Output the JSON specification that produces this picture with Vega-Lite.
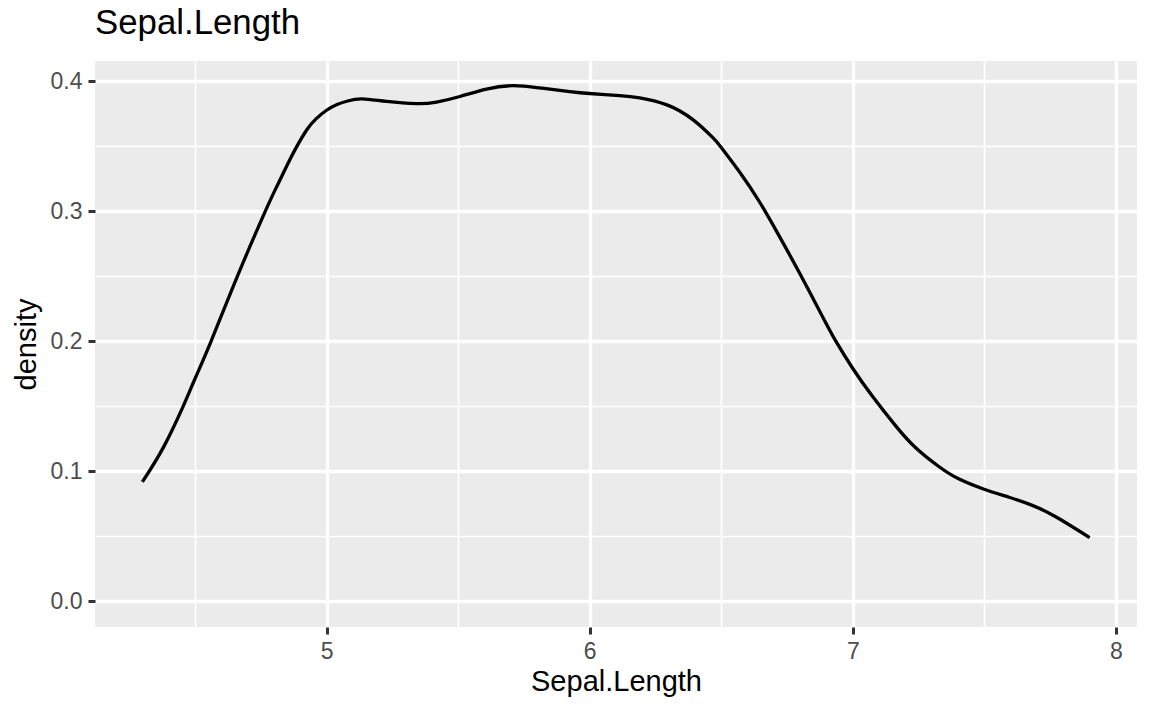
{
  "$schema": "https://vega.github.io/schema/vega-lite/v6.json",
  "width": 1042,
  "height": 566,
  "autosize": {"type": "none"},
  "padding": {"left": 95, "top": 61, "right": 15, "bottom": 84},
  "background": "white",
  "title": {"text": "Sepal.Length", "anchor": "start", "frame": "group", "fontSize": 34.8, "font": "Liberation Sans", "fontWeight": "normal", "color": "black", "baseline": "alphabetic", "offset": -8},
  "config": {"view": {"fill": "#EBEBEB", "stroke": null}},
  "data": {"values": [
    {"x": 4.3, "y": 0.0918}, {"x": 4.381, "y": 0.1188}, {"x": 4.457, "y": 0.1509}, {"x": 4.5, "y": 0.1712},
    {"x": 4.561, "y": 0.2}, {"x": 4.661, "y": 0.25}, {"x": 4.767, "y": 0.3}, {"x": 4.811, "y": 0.3192},
    {"x": 4.85, "y": 0.3355}, {"x": 4.883, "y": 0.3485}, {"x": 4.925, "y": 0.3628}, {"x": 4.96, "y": 0.3712},
    {"x": 5.0, "y": 0.3778}, {"x": 5.04, "y": 0.3822}, {"x": 5.08, "y": 0.3849}, {"x": 5.134, "y": 0.3866},
    {"x": 5.228, "y": 0.3846}, {"x": 5.342, "y": 0.3829}, {"x": 5.418, "y": 0.3841}, {"x": 5.507, "y": 0.3884},
    {"x": 5.608, "y": 0.3941}, {"x": 5.709, "y": 0.3967}, {"x": 5.81, "y": 0.395}, {"x": 5.924, "y": 0.3922},
    {"x": 6.0, "y": 0.3907}, {"x": 6.114, "y": 0.3891}, {"x": 6.19, "y": 0.3873}, {"x": 6.291, "y": 0.3821},
    {"x": 6.392, "y": 0.3706}, {"x": 6.468, "y": 0.3567}, {"x": 6.5, "y": 0.3492}, {"x": 6.569, "y": 0.3305},
    {"x": 6.645, "y": 0.3074}, {"x": 6.721, "y": 0.2808}, {"x": 6.797, "y": 0.2527}, {"x": 6.892, "y": 0.2163},
    {"x": 6.936, "y": 0.2}, {"x": 7.0, "y": 0.1791}, {"x": 7.076, "y": 0.1573}, {"x": 7.166, "y": 0.1342},
    {"x": 7.242, "y": 0.1175}, {"x": 7.328, "y": 0.1035}, {"x": 7.404, "y": 0.094}, {"x": 7.499, "y": 0.0862},
    {"x": 7.594, "y": 0.08}, {"x": 7.682, "y": 0.0738}, {"x": 7.771, "y": 0.065}, {"x": 7.9, "y": 0.049}
  ]},
  "mark": {"type": "line", "color": "black", "strokeWidth": 3.3, "interpolate": "natural"},
  "encoding": {
    "x": {
      "field": "x", "type": "quantitative",
      "scale": {"domain": [4.12, 8.08], "nice": false, "zero": false},
      "axis": {
        "title": "Sepal.Length",
        "values": [4.5, 5, 5.5, 6, 6.5, 7, 7.5, 8],
        "labelExpr": "datum.value % 1 === 0 ? format(datum.value, 'd') : ''",
        "domain": false,
        "grid": true,
        "gridColor": "white",
        "gridWidth": {"condition": {"test": "datum.value % 1 === 0", "value": 3.3}, "value": 1.7},
        "tickColor": {"condition": {"test": "datum.value % 1 === 0", "value": "#333333"}, "value": "rgba(0,0,0,0)"},
        "tickSize": 7,
        "tickWidth": 3,
        "labelPadding": 6,
        "labelFont": "Liberation Sans",
        "labelFontSize": 23,
        "labelColor": "#4D4D4D",
        "labelFlush": false,
        "labelOverlap": false,
        "titleFont": "Liberation Sans",
        "titleFontSize": 29,
        "titleFontWeight": "normal",
        "titleColor": "black",
        "titlePadding": 4
      }
    },
    "y": {
      "field": "y", "type": "quantitative",
      "scale": {"domain": [-0.0198, 0.4157], "nice": false, "zero": false},
      "axis": {
        "title": "density",
        "values": [0, 0.05, 0.1, 0.15, 0.2, 0.25, 0.3, 0.35, 0.4],
        "labelExpr": "abs(datum.value * 10 - round(datum.value * 10)) < 0.001 ? format(datum.value, '.1f') : ''",
        "domain": false,
        "grid": true,
        "gridColor": "white",
        "gridWidth": {"condition": {"test": "abs(datum.value * 10 - round(datum.value * 10)) < 0.001", "value": 3.3}, "value": 1.7},
        "tickColor": {"condition": {"test": "abs(datum.value * 10 - round(datum.value * 10)) < 0.001", "value": "#333333"}, "value": "rgba(0,0,0,0)"},
        "tickSize": 7,
        "tickWidth": 3,
        "labelPadding": 6,
        "labelFont": "Liberation Sans",
        "labelFontSize": 23,
        "labelColor": "#4D4D4D",
        "labelFlush": false,
        "labelOverlap": false,
        "titleFont": "Liberation Sans",
        "titleFontSize": 29,
        "titleFontWeight": "normal",
        "titleColor": "black",
        "titlePadding": 9
      }
    }
  }
}
